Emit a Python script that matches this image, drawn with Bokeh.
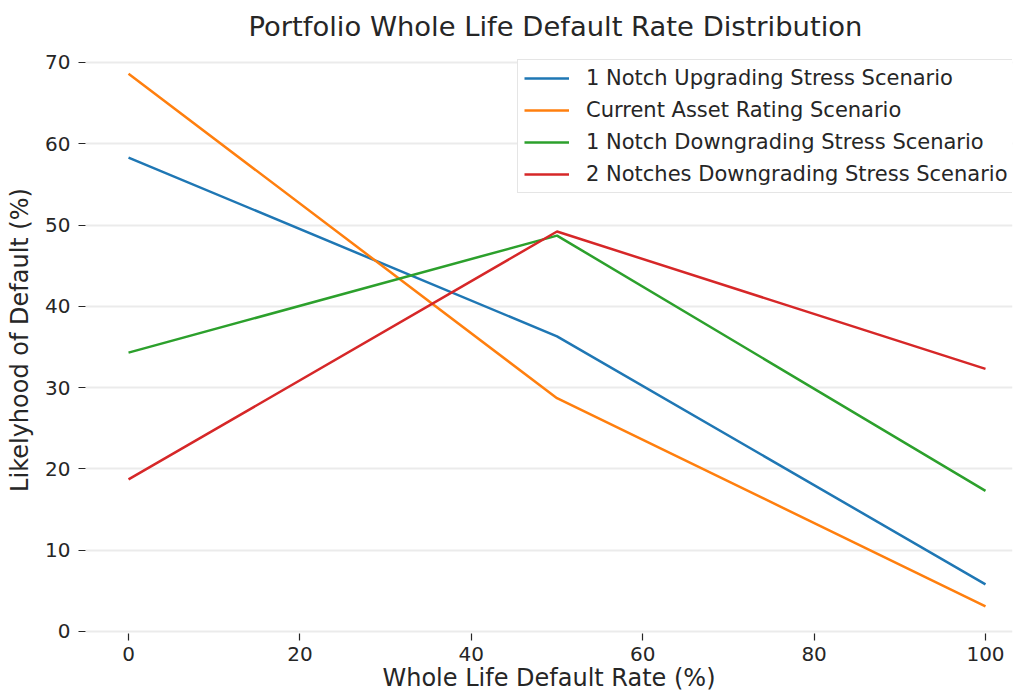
from bokeh.plotting import figure
from bokeh.models import Range1d, Legend, LegendItem, FixedTicker
from bokeh.embed import file_html
from bokeh.resources import INLINE

x = [0, 50, 100]
up1 = [58.3, 36.3, 5.8]
current = [68.6, 28.7, 3.1]
down1 = [34.3, 48.7, 17.3]
down2 = [18.7, 49.2, 32.3]
names = ["1 Notch Upgrading Stress Scenario", "Current Asset Rating Scenario",
         "1 Notch Downgrading Stress Scenario", "2 Notches Downgrading Stress Scenario"]
colors = ["#1f77b4", "#ff7f0e", "#2ca02c", "#d62728"]
x_ticks = [0, 20, 40, 60, 80, 100]
y_ticks = [0, 10, 20, 30, 40, 50, 60, 70]

FONT = "DejaVu Sans"
TXT = "#262626"

W, H = 1014, 698
p = figure(width=W, height=H, output_backend="svg", toolbar_location=None,
           x_range=Range1d(-5.02, (W - 2 - 128) / 8.57), y_range=Range1d(-0.25, 71.96),
           min_border_left=85, min_border_right=2, min_border_top=46,
           min_border_bottom=H - 633)
p.title.text = "Portfolio Whole Life Default Rate Distribution"
p.title.align = "left"
p.title.offset = 163
p.title.text_font = FONT
p.title.text_font_size = "27.4px"
p.title.text_font_style = "normal"
p.title.text_color = TXT
p.title.standoff = 10
p.outline_line_color = None

renderers = []
for ys, c in zip([up1, current, down1, down2], colors):
    r = p.line(x, ys, line_color=c, line_width=2.5)
    renderers.append(r)

legend = Legend(items=[LegendItem(label=n, renderers=[r]) for n, r in zip(names, renderers)],
                location=(432, 440))
legend.label_text_font = FONT
legend.label_text_font_size = "21px"
legend.label_text_color = TXT
legend.glyph_width = 45
legend.glyph_height = 24
legend.label_height = 24
legend.label_standoff = 17
legend.spacing = 8
legend.padding = 6
legend.margin = 0
legend.border_line_color = "#cccccc"
legend.border_line_width = 1
legend.background_fill_alpha = 1.0
p.add_layout(legend)

for ax in (p.xaxis[0], p.yaxis[0]):
    ax.axis_line_color = None
    ax.major_tick_line_color = TXT
    ax.major_tick_line_width = 1.2
    ax.major_tick_in = 0
    ax.major_tick_out = 7
    ax.minor_tick_line_color = None
    ax.major_label_text_font = FONT
    ax.major_label_text_font_size = "20px"
    ax.major_label_text_color = TXT
    ax.axis_label_text_font = FONT
    ax.axis_label_text_font_size = "24px"
    ax.axis_label_text_font_style = "normal"
    ax.axis_label_text_color = TXT
    ax.major_label_standoff = 8

p.xaxis.ticker = FixedTicker(ticks=x_ticks)
p.yaxis.ticker = FixedTicker(ticks=y_ticks)
p.xaxis.major_label_standoff = 6
p.xaxis.axis_label = "Whole Life Default Rate (%)"
p.yaxis.axis_label = "Likelyhood of Default (%)"
p.xaxis.axis_label_standoff = 0
p.yaxis.axis_label_standoff = 8

p.xgrid.grid_line_color = None
p.ygrid.grid_line_color = "#ebebeb"
p.ygrid.grid_line_width = 2

open("out.html", "w").write(file_html(p, INLINE))
